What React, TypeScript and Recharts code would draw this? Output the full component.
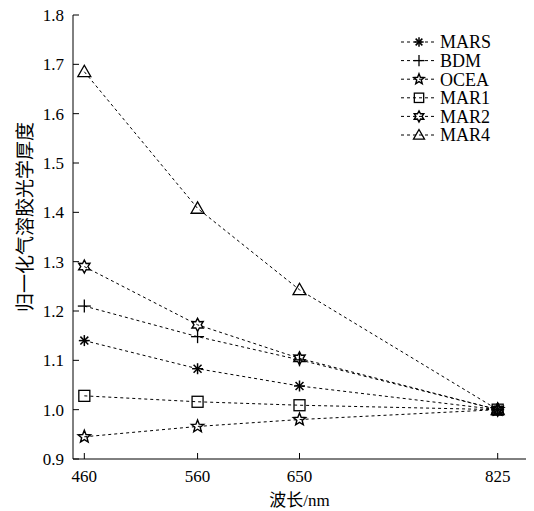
import React from 'react';
import { LineChart, Line, XAxis, YAxis, Label } from 'recharts';

// wavelengths (nm) and normalised AOD for each model
const wavelengths = [460, 560, 650, 825];
const mars = [1.14, 1.083, 1.048, 1.0];
const bdm = [1.21, 1.148, 1.101, 1.0];
const ocea = [0.945, 0.966, 0.98, 1.0];
const mar1 = [1.028, 1.016, 1.009, 1.0];
const mar2 = [1.29, 1.172, 1.104, 1.0];
const mar4 = [1.685, 1.408, 1.243, 1.0];

const seriesNames = ['MARS', 'BDM', 'OCEA', 'MAR1', 'MAR2', 'MAR4'];
const seriesValues = [mars, bdm, ocea, mar1, mar2, mar4];
const seriesMarkers = ['asterisk', 'plus', 'pentagram', 'square', 'hexagram', 'triangle'];

const xTicks = [460, 560, 650, 825];
const yTicks = [0.9, 1.0, 1.1, 1.2, 1.3, 1.4, 1.5, 1.6, 1.7, 1.8];

const data = wavelengths.map((wl, i) => {
  const row: Record<string, number> = { wl };
  seriesNames.forEach((name, s) => { row[name] = seriesValues[s][i]; });
  return row;
});

const FONT = '"Liberation Serif", "Times New Roman", serif';
const CJK = '"Noto Sans CJK SC", sans-serif';

const starPath = (cx: number, cy: number, n: number, ro: number, ri: number) => {
  const pts: string[] = [];
  for (let k = 0; k < n * 2; k++) {
    const r = k % 2 === 0 ? ro : ri;
    const a = -Math.PI / 2 + (k * Math.PI) / n;
    pts.push(`${cx + r * Math.cos(a)},${cy + r * Math.sin(a)}`);
  }
  return pts.join(' ');
};

const Marker = ({ kind, cx, cy, s = 1 }: { kind: string; cx: number; cy: number; s?: number }) => {
  const st = { stroke: '#000', strokeWidth: 1.1, fill: 'none' };
  if (kind === 'asterisk') {
    const r = 5.5 * s;
    const d = r * 0.72;
    return (
      <g {...st} strokeWidth={1.5}>
        <line x1={cx - r} y1={cy} x2={cx + r} y2={cy} />
        <line x1={cx} y1={cy - r} x2={cx} y2={cy + r} />
        <line x1={cx - d} y1={cy - d} x2={cx + d} y2={cy + d} />
        <line x1={cx - d} y1={cy + d} x2={cx + d} y2={cy - d} />
      </g>
    );
  }
  if (kind === 'plus') {
    const r = 6.5 * s;
    return (
      <g {...st} strokeWidth={1.3}>
        <line x1={cx - r} y1={cy} x2={cx + r} y2={cy} />
        <line x1={cx} y1={cy - r} x2={cx} y2={cy + r} />
      </g>
    );
  }
  if (kind === 'pentagram') {
    return <polygon points={starPath(cx, cy, 5, 6.5 * s, 2.8 * s)} {...st} strokeWidth={1.4} />;
  }
  if (kind === 'hexagram') {
    return <polygon points={starPath(cx, cy, 6, 6.5 * s, 3.6 * s)} {...st} strokeWidth={1.4} />;
  }
  if (kind === 'square') {
    const h = 5.5 * s;
    return <rect x={cx - h} y={cy - h} width={2 * h} height={2 * h} {...st} strokeWidth={1.3} />;
  }
  const h = 6.5 * s;
  return (
    <polygon
      points={`${cx},${cy - h} ${cx + h},${cy + h * 0.75} ${cx - h},${cy + h * 0.75}`}
      {...st}
      strokeWidth={1.3}
    />
  );
};

const LeftTick = (props: any) => {
  const { x, y, payload } = props;
  return (
    <g>
      <line x1={x} y1={y} x2={x + 6} y2={y} stroke="#000" />
      <text x={x - 9} y={y} dy="0.35em" textAnchor="end" fontSize={17} fontFamily={FONT} fill="#000">
        {Number(payload.value).toFixed(1)}
      </text>
    </g>
  );
};

const BottomTick = (props: any) => {
  const { x, y, payload } = props;
  return (
    <g>
      <line x1={x} y1={y} x2={x} y2={y - 6} stroke="#000" />
      <text x={x} y={y + 23} textAnchor="middle" fontSize={17} fontFamily={FONT} fill="#000">
        {payload.value}
      </text>
    </g>
  );
};

const TopTick = (props: any) => {
  const { x, y } = props;
  return <line x1={x} y1={y} x2={x} y2={y + 6} stroke="#000" />;
};

const RightTick = (props: any) => {
  const { x, y } = props;
  return <line x1={x} y1={y} x2={x - 6} y2={y} stroke="#000" />;
};

const YTitle = (props: any) => {
  const { viewBox } = props;
  const cx = viewBox.x + 25;
  const cy = viewBox.y + viewBox.height / 2 - 20;
  return (
    <text
      x={cx}
      y={cy}
      transform={`rotate(-90 ${cx} ${cy})`}
      textAnchor="middle"
      dy="0.35em"
      fontSize={19}
      fontFamily={CJK}
      fill="#000"
    >
      归一化气溶胶光学厚度
    </text>
  );
};

const XTitle = (props: any) => {
  const { viewBox } = props;
  return (
    <text
      x={viewBox.x + viewBox.width / 2}
      y={viewBox.y + 47}
      textAnchor="middle"
      fontSize={17}
      fill="#000"
    >
      <tspan fontFamily={CJK}>波长</tspan>
      <tspan fontFamily={FONT}>/nm</tspan>
    </text>
  );
};

const LegendBox: React.FC = () => (
  <svg
    width={534}
    height={511}
    style={{ position: 'absolute', left: 0, top: 0, pointerEvents: 'none' }}
  >
    {seriesNames.map((name, i) => {
      const cy = 42 + i * 18.6;
      return (
        <g key={name}>
          <line x1={401} y1={cy} x2={436} y2={cy} stroke="#000" strokeDasharray="3 3" />
          <Marker kind={seriesMarkers[i]} cx={419} cy={cy} s={0.85} />
          <text x={440} y={cy} dy="0.35em" fontSize={18} fontFamily={FONT} fill="#000">
            {name}
          </text>
        </g>
      );
    })}
  </svg>
);

const App: React.FC = () => {
  return (
    <div style={{ position: 'absolute', left: 0, top: 0, width: 534, height: 511, background: '#fff' }}>
      <LineChart width={534} height={511} data={data} margin={{ top: 15, right: 8, left: 0, bottom: 0 }}>
        <XAxis
          dataKey="wl"
          type="number"
          domain={[450, 850]}
          ticks={xTicks}
          interval={0}
          height={52}
          tickSize={0}
          tickMargin={0}
          tickLine={false}
          tick={<BottomTick />}
          axisLine={{ stroke: '#000' }}
        >
          <Label content={<XTitle />} />
        </XAxis>
        <XAxis
          xAxisId="top"
          orientation="top"
          dataKey="wl"
          type="number"
          domain={[450, 850]}
          ticks={xTicks}
          interval={0}
          height={0}
          tickSize={0}
          tickMargin={0}
          tickLine={false}
          tick={<TopTick />}
          axisLine={{ stroke: '#000' }}
        />
        <YAxis
          type="number"
          domain={[0.9, 1.8]}
          ticks={yTicks}
          interval={0}
          width={73}
          tickSize={0}
          tickMargin={0}
          tickLine={false}
          tick={<LeftTick />}
          axisLine={{ stroke: '#000' }}
        >
          <Label content={<YTitle />} />
        </YAxis>
        <YAxis
          yAxisId="right"
          orientation="right"
          type="number"
          domain={[0.9, 1.8]}
          ticks={yTicks}
          interval={0}
          width={0}
          tickSize={0}
          tickMargin={0}
          tickLine={false}
          tick={<RightTick />}
          axisLine={{ stroke: '#000' }}
        />
        {seriesNames.map((name, i) => (
          <Line
            key={name}
            dataKey={name}
            type="linear"
            stroke="#000"
            strokeWidth={1}
            strokeDasharray="3 3"
            isAnimationActive={false}
            dot={(p: any) => <Marker key={`${name}-${p.index}`} kind={seriesMarkers[i]} cx={p.cx} cy={p.cy} />}
            activeDot={false}
          />
        ))}
      </LineChart>
      <LegendBox />
    </div>
  );
};

export default App;
